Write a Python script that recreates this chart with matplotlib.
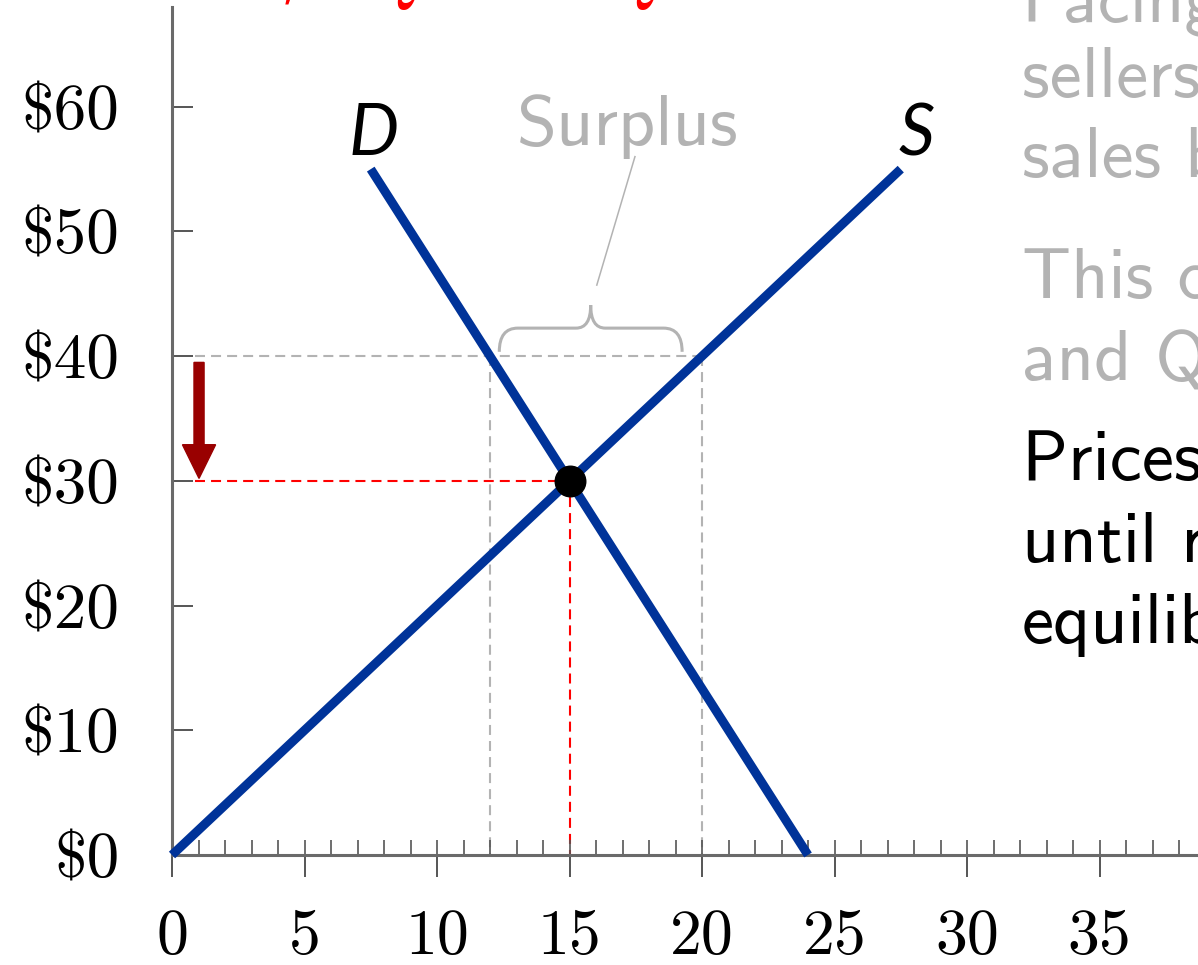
import matplotlib.pyplot as plt
from matplotlib.path import Path
from matplotlib.patches import PathPatch

plt.rcParams['mathtext.fontset'] = 'cm'
plt.rcParams['axes.unicode_minus'] = False

# supply and demand curves (quantity, price)
supply_q = [0, 27.5]
supply_p = [0, 55]
demand_q = [7.5, 24]
demand_p = [55, 0]

# equilibrium and surplus
eq_q, eq_p = 15, 30
surplus_p = 40
surplus_qd, surplus_qs = 12, 20

price_ticks = [0, 10, 20, 30, 40, 50, 60]
price_labels = ['$0', '$10', '$20', '$30', '$40', '$50', '$60']
qty_ticks = [0, 5, 10, 15, 20, 25, 30, 35]
qty_labels = ['0', '5', '10', '15', '20', '25', '30', '35']
qty_minor = list(range(0, 41))

grey_text = ['Facing a surplus,', 'sellers try to boost', 'sales by cutting price.',
             'This continues until QD', 'and QS are equal.']
black_text = ['Prices fall', 'until reaching', 'equilibrium.']

W, H = 1198, 965
fig = plt.figure(figsize=(W / 100, H / 100), dpi=100)
ax = fig.add_axes([172 / W, 110 / H, 1060 / W, 848 / H])
ax.set_xlim(0, 40)
ax.set_ylim(0, 68)

blue = '#003399'
grey = '#b3b3b3'

# guide lines
ax.plot([0.85, surplus_qs], [surplus_p, surplus_p], color=grey, lw=1.5, dashes=(4.8, 2.9), zorder=1)
ax.plot([surplus_qd, surplus_qd], [surplus_p, 0], color=grey, lw=1.5, dashes=(4.8, 2.9), zorder=1)
ax.plot([surplus_qs, surplus_qs], [surplus_p, 0], color=grey, lw=1.5, dashes=(4.8, 2.9), zorder=1)
ax.plot([0.85, eq_q], [eq_p, eq_p], color='red', lw=1.5, dashes=(4.8, 2.9), zorder=1)
ax.plot([eq_q, eq_q], [eq_p, 0], color='red', lw=1.5, dashes=(4.8, 2.9), zorder=1)

# curves
ax.plot(supply_q, supply_p, color=blue, lw=6.5, solid_capstyle='butt', clip_on=False, zorder=3)
ax.plot(demand_q, demand_p, color=blue, lw=6.5, solid_capstyle='butt', clip_on=False, zorder=3)
ax.plot([eq_q], [eq_p], 'o', color='black', markersize=22, zorder=4)

ax.text(demand_q[0] + 0.1, 56.1, 'D', fontsize=51, fontfamily='Lato', fontstyle='italic', ha='center', va='baseline')
ax.text(supply_q[1] + 0.6, 56.1, 'S', fontsize=51, fontfamily='Lato', fontstyle='italic', ha='center', va='baseline')

# price falling arrow
ax.arrow(1.02, 39.5, 0, -9.3, width=0.38, head_width=1.25, head_length=2.7,
         length_includes_head=True, color='#990000', zorder=2)

# surplus brace
bx0, bx1 = surplus_qd + 0.35, surplus_qs - 0.75
bxc = (bx0 + bx1) / 2
by_end, by_h, by_tip = surplus_p + 0.35, surplus_p + 2.25, surplus_p + 4.1
r, r2 = 0.7, 0.55
verts = [(bx0, by_end), (bx0, by_h), (bx0 + r, by_h),
         (bxc - r2, by_h), (bxc, by_h), (bxc, by_tip),
         (bxc, by_h), (bxc + r2, by_h),
         (bx1 - r, by_h), (bx1, by_h), (bx1, by_end)]
codes = [Path.MOVETO, Path.CURVE3, Path.CURVE3, Path.LINETO, Path.CURVE3, Path.CURVE3,
         Path.CURVE3, Path.CURVE3, Path.LINETO, Path.CURVE3, Path.CURVE3]
ax.add_patch(PathPatch(Path(verts, codes), fill=False, edgecolor=grey, lw=2.2, zorder=2))
ax.plot([bxc + 0.23, 17.47], [by_tip + 1.6, 56.0], color=grey, lw=1.1)
ax.text(17.2, 56.9, 'Surplus', fontsize=52, fontfamily='cmss10', color=grey, ha='center', va='baseline')

# axes styling
for side in ['top', 'right']:
    ax.spines[side].set_visible(False)
for side in ['left', 'bottom']:
    ax.spines[side].set_color('#6a6a6a')
    ax.spines[side].set_linewidth(2.2)

ax.set_xticks(qty_ticks, labels=qty_labels)
ax.set_xticks(qty_minor, minor=True)
ax.xaxis.remove_overlapping_locs = False
ax.set_yticks(price_ticks, labels=price_labels)
ax.tick_params(axis='x', which='major', direction='out', length=16, width=1.4, color='#555555',
               pad=23, labelsize=46)
ax.tick_params(axis='x', which='minor', direction='in', length=11, width=1.2, color='#555555')
ax.tick_params(axis='y', which='major', direction='in', length=15, width=1.4, color='#555555',
               pad=38, labelsize=47)
for lab in ax.get_xticklabels() + ax.get_yticklabels():
    lab.set_fontfamily('cmr10')

# slide title (mostly above the visible area)
fig.text(298 / W, 1 + 4 / H, 'At a price of $40,', color='red', fontsize=50, fontfamily='cmss10',
         ha='right', va='baseline')
fig.text(368 / W, 1 + 3 / H, r'$Q^S \,\;>\;\, Q^D$', color='red', fontsize=52, ha='left', va='baseline')

# slide text
for line, ypx in zip(grey_text, [22, 97, 177, 298, 380]):
    fig.text(1022 / W, 1 - ypx / H, line, color=grey, fontsize=52, fontfamily='cmss10', va='baseline')
for line, ypx in zip(black_text, [480, 562, 643]):
    fig.text(1022 / W, 1 - ypx / H, line, color='black', fontsize=52, fontfamily='cmss10', va='baseline')

plt.savefig('out.png', dpi=100)
